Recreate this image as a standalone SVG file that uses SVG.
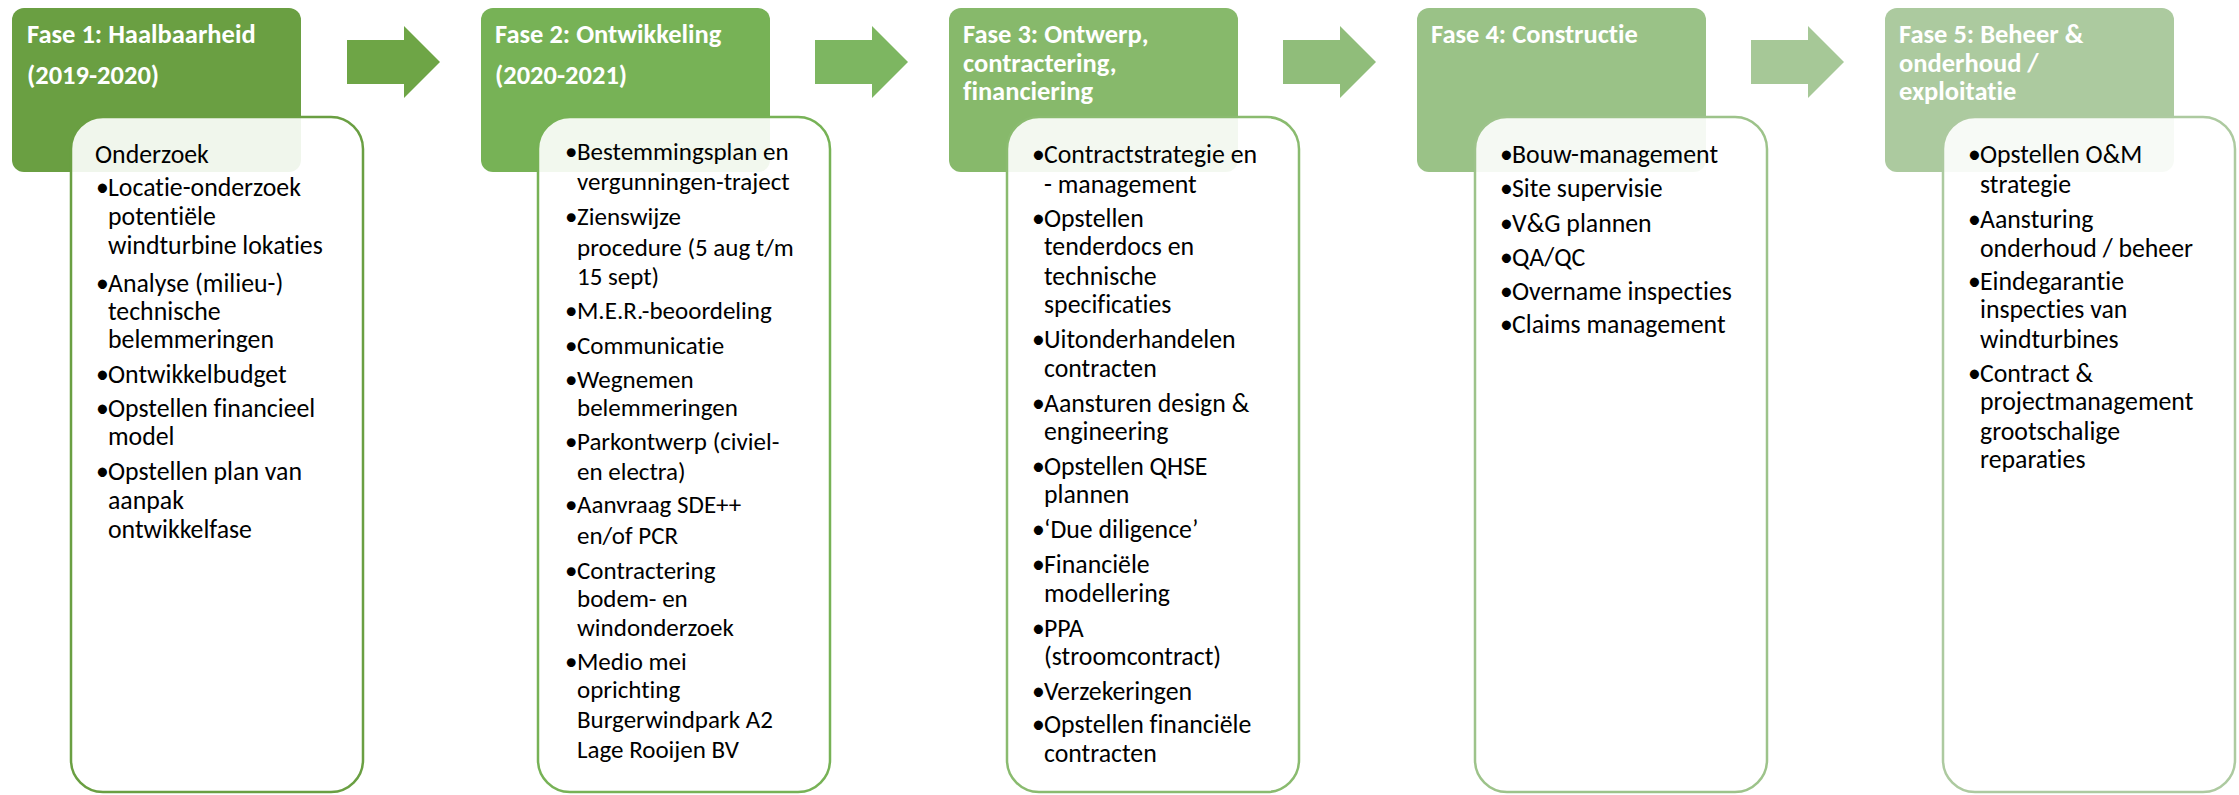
<svg xmlns="http://www.w3.org/2000/svg" width="2239" height="795" viewBox="0 0 2239 795">
<style>
.hdr{font-family:Carlito,Lato,"Liberation Sans",sans-serif;font-weight:bold;font-size:26.5px;fill:#ffffff;font-variant-ligatures:none}
.txt{font-family:Carlito,Lato,"Liberation Sans",sans-serif;font-size:25.8px;fill:#000000;font-variant-ligatures:none}
.txt2{font-size:25px}
.box{fill:#ffffff;fill-opacity:0.9;stroke-width:2.5}
</style>
<rect width="2239" height="795" fill="#ffffff"/>
<g id="connectors">
<polygon points="347,40 404,40 404,26 440,62 404,98 404,84 347,84" fill="#6ea546"/>
<polygon points="815,40 872,40 872,26 908,62 872,98 872,84 815,84" fill="#7db661"/>
<polygon points="1283,40 1340,40 1340,26 1376,62 1340,98 1340,84 1283,84" fill="#90bd7a"/>
<polygon points="1751,40 1808,40 1808,26 1844,62 1808,98 1808,84 1751,84" fill="#a6c897"/>
</g>
<g id="phase1">
<rect x="12" y="8" width="289" height="164" rx="12" fill="#6a9f42"/>
<text class="hdr" x="27" y="43">Fase 1: Haalbaarheid</text>
<text class="hdr" x="27" y="84">(2019-2020)</text>
<rect class="box" x="71" y="117" width="292" height="675" rx="32" stroke="#6a9f42"/>
<text class="txt">
<tspan x="95" y="163">Onderzoek</tspan>
<tspan x="96" y="196">•</tspan><tspan x="108" y="196">Locatie-onderzoek</tspan>
<tspan x="108" y="225">potentiële</tspan>
<tspan x="108" y="254">windturbine lokaties</tspan>
<tspan x="96" y="292">•</tspan><tspan x="108" y="292">Analyse (milieu-)</tspan>
<tspan x="108" y="320">technische</tspan>
<tspan x="108" y="348">belemmeringen</tspan>
<tspan x="96" y="383">•</tspan><tspan x="108" y="383">Ontwikkelbudget</tspan>
<tspan x="96" y="417">•</tspan><tspan x="108" y="417">Opstellen financieel</tspan>
<tspan x="108" y="445">model</tspan>
<tspan x="96" y="480">•</tspan><tspan x="108" y="480">Opstellen plan van</tspan>
<tspan x="108" y="509">aanpak</tspan>
<tspan x="108" y="538">ontwikkelfase</tspan>
</text>
</g>
<g id="phase2">
<rect x="481" y="8" width="289" height="164" rx="12" fill="#77b256"/>
<text class="hdr" x="495" y="43">Fase 2: Ontwikkeling</text>
<text class="hdr" x="495" y="84">(2020-2021)</text>
<rect class="box" x="538" y="117" width="292" height="675" rx="32" stroke="#77b256"/>
<text class="txt txt2">
<tspan x="565" y="160">•</tspan><tspan x="577" y="160">Bestemmingsplan en</tspan>
<tspan x="577" y="190">vergunningen-traject</tspan>
<tspan x="565" y="225">•</tspan><tspan x="577" y="225">Zienswijze</tspan>
<tspan x="577" y="256">procedure (5 aug t/m</tspan>
<tspan x="577" y="285">15 sept)</tspan>
<tspan x="565" y="319">•</tspan><tspan x="577" y="319">M.E.R.-beoordeling</tspan>
<tspan x="565" y="354">•</tspan><tspan x="577" y="354">Communicatie</tspan>
<tspan x="565" y="388">•</tspan><tspan x="577" y="388">Wegnemen</tspan>
<tspan x="577" y="416">belemmeringen</tspan>
<tspan x="565" y="450">•</tspan><tspan x="577" y="450">Parkontwerp (civiel-</tspan>
<tspan x="577" y="480">en electra)</tspan>
<tspan x="565" y="513">•</tspan><tspan x="577" y="513">Aanvraag SDE++</tspan>
<tspan x="577" y="544">en/of PCR</tspan>
<tspan x="565" y="579">•</tspan><tspan x="577" y="579">Contractering</tspan>
<tspan x="577" y="607">bodem- en</tspan>
<tspan x="577" y="636">windonderzoek</tspan>
<tspan x="565" y="670">•</tspan><tspan x="577" y="670">Medio mei</tspan>
<tspan x="577" y="698">oprichting</tspan>
<tspan x="577" y="728">Burgerwindpark A2</tspan>
<tspan x="577" y="758">Lage Rooijen BV</tspan>
</text>
</g>
<g id="phase3">
<rect x="949" y="8" width="289" height="164" rx="12" fill="#87b96b"/>
<text class="hdr"><tspan x="963" y="43">Fase 3: Ontwerp,</tspan><tspan x="963" y="72">contractering,</tspan><tspan x="963" y="100">financiering</tspan></text>
<rect class="box" x="1007" y="117" width="292" height="675" rx="32" stroke="#8abb6f"/>
<text class="txt">
<tspan x="1032" y="163">•</tspan><tspan x="1044" y="163">Contractstrategie en</tspan>
<tspan x="1044" y="193">- management</tspan>
<tspan x="1032" y="227">•</tspan><tspan x="1044" y="227">Opstellen</tspan>
<tspan x="1044" y="255">tenderdocs en</tspan>
<tspan x="1044" y="285">technische</tspan>
<tspan x="1044" y="313">specificaties</tspan>
<tspan x="1032" y="348">•</tspan><tspan x="1044" y="348">Uitonderhandelen</tspan>
<tspan x="1044" y="377">contracten</tspan>
<tspan x="1032" y="412">•</tspan><tspan x="1044" y="412">Aansturen design &amp;</tspan>
<tspan x="1044" y="440">engineering</tspan>
<tspan x="1032" y="475">•</tspan><tspan x="1044" y="475">Opstellen QHSE</tspan>
<tspan x="1044" y="503">plannen</tspan>
<tspan x="1032" y="538">•</tspan><tspan x="1044" y="538">‘Due diligence’</tspan>
<tspan x="1032" y="573">•</tspan><tspan x="1044" y="573">Financiële</tspan>
<tspan x="1044" y="602">modellering</tspan>
<tspan x="1032" y="637">•</tspan><tspan x="1044" y="637">PPA</tspan>
<tspan x="1044" y="665">(stroomcontract)</tspan>
<tspan x="1032" y="700">•</tspan><tspan x="1044" y="700">Verzekeringen</tspan>
<tspan x="1032" y="733">•</tspan><tspan x="1044" y="733">Opstellen financiële</tspan>
<tspan x="1044" y="762">contracten</tspan>
</text>
</g>
<g id="phase4">
<rect x="1417" y="8" width="289" height="164" rx="12" fill="#9ac287"/>
<text class="hdr" x="1431" y="43">Fase 4: Constructie</text>
<rect class="box" x="1475" y="117" width="292" height="675" rx="32" stroke="#9dc38a"/>
<text class="txt">
<tspan x="1500" y="163">•</tspan><tspan x="1512" y="163">Bouw-management</tspan>
<tspan x="1500" y="197">•</tspan><tspan x="1512" y="197">Site supervisie</tspan>
<tspan x="1500" y="232">•</tspan><tspan x="1512" y="232">V&amp;G plannen</tspan>
<tspan x="1500" y="266">•</tspan><tspan x="1512" y="266">QA/QC</tspan>
<tspan x="1500" y="300">•</tspan><tspan x="1512" y="300">Overname inspecties</tspan>
<tspan x="1500" y="333">•</tspan><tspan x="1512" y="333">Claims management</tspan>
</text>
</g>
<g id="phase5">
<rect x="1885" y="8" width="289" height="164" rx="12" fill="#acca9f"/>
<text class="hdr"><tspan x="1899" y="43">Fase 5: Beheer &amp;</tspan><tspan x="1899" y="72">onderhoud /</tspan><tspan x="1899" y="100">exploitatie</tspan></text>
<rect class="box" x="1943" y="117" width="292" height="675" rx="32" stroke="#adcaa0"/>
<text class="txt">
<tspan x="1968" y="163">•</tspan><tspan x="1980" y="163">Opstellen O&amp;M</tspan>
<tspan x="1980" y="193">strategie</tspan>
<tspan x="1968" y="228">•</tspan><tspan x="1980" y="228">Aansturing</tspan>
<tspan x="1980" y="257">onderhoud / beheer</tspan>
<tspan x="1968" y="290">•</tspan><tspan x="1980" y="290">Eindegarantie</tspan>
<tspan x="1980" y="318">inspecties van</tspan>
<tspan x="1980" y="348">windturbines</tspan>
<tspan x="1968" y="382">•</tspan><tspan x="1980" y="382">Contract &amp;</tspan>
<tspan x="1980" y="410">projectmanagement</tspan>
<tspan x="1980" y="440">grootschalige</tspan>
<tspan x="1980" y="468">reparaties</tspan>
</text>
</g>
</svg>
